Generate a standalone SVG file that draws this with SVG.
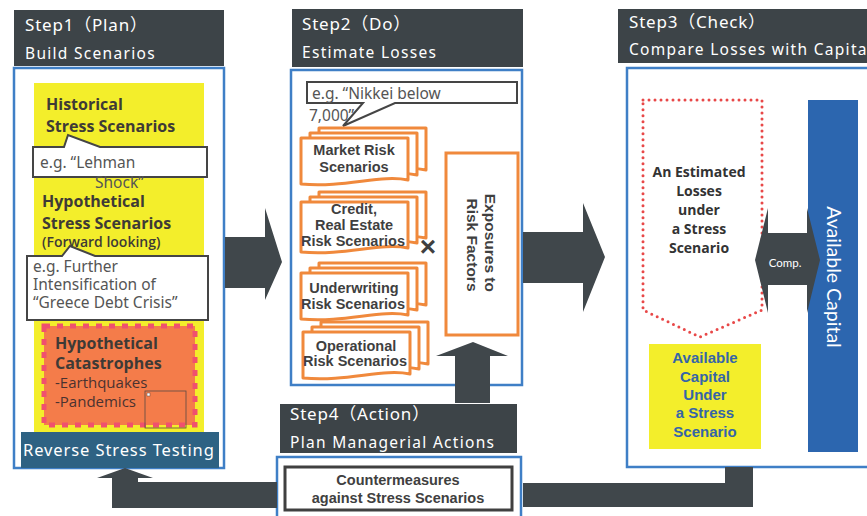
<svg xmlns="http://www.w3.org/2000/svg" width="867" height="516" viewBox="0 0 867 516">
  <style>
    .hdr { fill: #3d4448; }
    .hdr-t1 { font-family: "Noto Sans", "Noto Sans CJK JP", sans-serif; font-size: 17px; fill: #ffffff; letter-spacing: 0.8px; }
    .hdr-t2 { font-family: "Noto Sans", "Noto Sans CJK JP", sans-serif; font-size: 15.5px; fill: #ffffff; letter-spacing: 1.3px; }
    .panel { fill: #ffffff; stroke: #3f7fc6; stroke-width: 2.5; }
    .flow { fill: #40474b; }
    .callout { fill: #ffffff; stroke: #454545; stroke-width: 2; }
    .callout-t { font-family: "Noto Sans", "Noto Sans CJK JP", sans-serif; font-size: 15.5px; fill: #555555; }
    .scen { font-family: "Open Sans", Lato, sans-serif; font-weight: bold; font-size: 16px; fill: #3e3a36; }
    .card { fill: #ffffff; stroke: #f0893c; stroke-width: 3; stroke-linejoin: round; }
    .card-t { font-family: "Liberation Sans", Arial, sans-serif; font-weight: bold; font-size: 14.5px; fill: #3f3f3f; text-anchor: middle; }
    .bold-mid { font-family: "Liberation Sans", Arial, sans-serif; font-weight: bold; text-anchor: middle; }
  </style>
  <defs>
    <!-- document-style card with a wavy lower edge -->
    <path id="card" d="M0,0 H107 V42 C80,36 45,50 0,46 Z"/>
    <path id="cardTall" d="M0,0 H107 V46 C80,40 45,54 0,50 Z"/>
  </defs>

  <!-- ===== Step 1 : Plan ===== -->
  <g id="step1">
    <rect class="hdr" x="14" y="10" width="210" height="56"/>
    <text class="hdr-t1" x="25" y="31">Step1（Plan）</text>
    <text class="hdr-t2" x="25" y="59">Build Scenarios</text>
    <rect class="panel" x="14" y="68" width="210" height="400"/>
  </g>

  <g id="scenario-block">
    <rect x="34" y="83" width="170" height="350" fill="#f3ee2b"/>
    <text class="scen" x="46" y="110">Historical</text>
    <text class="scen" x="46" y="132">Stress Scenarios</text>
  </g>

  <g id="callout-lehman">
    <path class="callout" d="M33,147 H64 L68,135 L100,147 H207 V177 H33 Z"/>
    <text class="callout-t" x="40" y="168" font-size="16.5">e.g. “Lehman</text>
    <text class="callout-t" x="95" y="188" fill="#666666">Shock”</text>
  </g>

  <g id="hypothetical">
    <text class="scen" x="42" y="207">Hypothetical</text>
    <text class="scen" x="42" y="229">Stress Scenarios</text>
    <text x="42" y="247" font-family="'Open Sans', Lato, sans-serif" font-weight="600" font-size="14" fill="#3e3a36">(Forward looking)</text>
  </g>

  <g id="callout-greece">
    <path class="callout" d="M27,256 H62 L70,246 L95,256 H208 V320 H27 Z"/>
    <text class="callout-t" x="33" y="272">e.g. Further</text>
    <text class="callout-t" x="33" y="290">Intensification of</text>
    <text class="callout-t" x="33" y="308">“Greece Debt Crisis”</text>
  </g>

  <g id="catastrophes">
    <rect x="44" y="326" width="151" height="99" fill="#f47c4a" stroke="#f0506e" stroke-width="5" stroke-dasharray="6 7"/>
    <text class="scen" x="55" y="349" font-size="16.5" fill="#4a3230">Hypothetical</text>
    <text class="scen" x="55" y="369" font-size="16.5" fill="#4a3230">Catastrophes</text>
    <text x="55" y="388" font-family="'Open Sans', Lato, sans-serif" font-size="15" fill="#4a3230">-Earthquakes</text>
    <text x="55" y="407" font-family="'Open Sans', Lato, sans-serif" font-size="15" fill="#4a3230">-Pandemics</text>
    <rect x="145" y="391" width="41" height="37" fill="none" stroke="#5a4a44" stroke-width="0.8"/>
    <rect x="147" y="393" width="3" height="3" fill="#ffffff" stroke="#5a4a44" stroke-width="0.5"/>
  </g>

  <g id="reverse-stress">
    <rect x="21" y="432" width="198" height="36" fill="#2e6283"/>
    <text x="23" y="456" font-family="'Noto Sans', 'Noto Sans CJK JP', sans-serif" font-size="16.5" fill="#ffffff" letter-spacing="0.9">Reverse Stress Testing</text>
  </g>

  <!-- ===== Step 2 : Do ===== -->
  <g id="step2">
    <rect class="hdr" x="292" y="9" width="231" height="58"/>
    <text class="hdr-t1" x="302" y="30">Step2（Do）</text>
    <text class="hdr-t2" x="302" y="58">Estimate Losses</text>
    <rect class="panel" x="291" y="70" width="231" height="315"/>
  </g>

  <g id="callout-nikkei">
    <path class="callout" d="M307,82 H517 V103 H395 L343,126 L363,103 H307 Z"/>
    <text class="callout-t" x="312" y="99" font-size="16">e.g. “Nikkei below</text>
    <text class="callout-t" x="309" y="121" font-size="16">7,000”</text>
  </g>

  <g id="market-risk">
    <use href="#card" class="card" x="319" y="128"/>
    <use href="#card" class="card" x="310" y="133"/>
    <use href="#card" class="card" x="301" y="138"/>
    <text class="card-t" x="354" y="155">Market Risk</text>
    <text class="card-t" x="354" y="172">Scenarios</text>
  </g>

  <g id="credit-risk">
    <use href="#cardTall" class="card" x="319" y="192"/>
    <use href="#cardTall" class="card" x="310" y="197"/>
    <use href="#cardTall" class="card" x="301" y="202"/>
    <text class="card-t" x="354" y="214">Credit,</text>
    <text class="card-t" x="354" y="230">Real Estate</text>
    <text class="card-t" x="353" y="246">Risk Scenarios</text>
  </g>

  <g id="underwriting-risk">
    <use href="#card" class="card" x="319" y="263"/>
    <use href="#card" class="card" x="310" y="268"/>
    <use href="#card" class="card" x="301" y="273"/>
    <text class="card-t" x="354" y="293">Underwriting</text>
    <text class="card-t" x="353" y="309">Risk Scenarios</text>
  </g>

  <g id="operational-risk">
    <use href="#card" class="card" x="321" y="322"/>
    <use href="#card" class="card" x="312" y="327"/>
    <use href="#card" class="card" x="303" y="332"/>
    <text class="card-t" x="356" y="351">Operational</text>
    <text class="card-t" x="355" y="366">Risk Scenarios</text>
  </g>

  <g id="times">
    <text class="bold-mid" x="428" y="256" font-size="28" fill="#3f3f3f">×</text>
  </g>

  <g id="exposures">
    <rect x="446" y="153" width="72" height="182" fill="#ffffff" stroke="#f0893c" stroke-width="3"/>
    <text class="bold-mid" font-size="15.5" fill="#3f3f3f" transform="translate(481,245) rotate(90)">
      <tspan x="0" y="-4">Exposures to</tspan>
      <tspan x="0" y="14">Risk Factors</tspan>
    </text>
  </g>

  <!-- ===== Step 3 : Check ===== -->
  <g id="step3">
    <rect class="hdr" x="618" y="9" width="260" height="54"/>
    <text class="hdr-t1" x="629" y="28">Step3（Check）</text>
    <text class="hdr-t2" x="629" y="55">Compare Losses with Capital</text>
    <rect class="panel" x="627" y="68" width="260" height="399"/>
  </g>

  <g id="estimated-losses">
    <path d="M643,100 H762 V310 L700,337 L643,310 Z" fill="none" stroke="#e84848" stroke-width="3" stroke-linecap="round" stroke-dasharray="0 6"/>
    <g font-family="'Open Sans', Lato, sans-serif" font-weight="bold" font-size="14" fill="#333333" text-anchor="middle">
      <text x="699" y="177">An Estimated</text>
      <text x="699" y="196">Losses</text>
      <text x="699" y="215">under</text>
      <text x="699" y="234">a Stress</text>
      <text x="699" y="253">Scenario</text>
    </g>
  </g>

  <g id="available-capital">
    <rect x="808" y="100" width="50" height="352" fill="#2c66af"/>
    <text x="0" y="0" font-family="Lato, 'Open Sans', sans-serif" font-size="19.5" fill="#ffffff" text-anchor="middle" transform="translate(833,277) rotate(90) translate(0,6)">Available Capital</text>
  </g>

  <g id="stressed-capital">
    <rect x="649" y="344" width="112" height="105" fill="#f3ee2b"/>
    <g class="bold-mid" font-size="15" fill="#3565a8">
      <text x="705" y="363">Available</text>
      <text x="705" y="382">Capital</text>
      <text x="705" y="400">Under</text>
      <text x="705" y="418">a Stress</text>
      <text x="705" y="437">Scenario</text>
    </g>
  </g>

  <!-- ===== Step 4 : Action ===== -->
  <g id="step4">
    <rect class="hdr" x="280" y="404" width="237" height="49"/>
    <text class="hdr-t1" x="290" y="420">Step4（Action）</text>
    <text class="hdr-t2" x="290" y="448">Plan Managerial Actions</text>
    <rect class="panel" x="277" y="457" width="244" height="70"/>
    <rect x="285" y="467" width="227" height="43" fill="#ffffff" stroke="#404040" stroke-width="3"/>
    <text class="bold-mid" x="398" y="485" font-size="14.5" fill="#404040">Countermeasures</text>
    <text class="bold-mid" x="398" y="503" font-size="14.5" fill="#404040">against Stress Scenarios</text>
  </g>

  <!-- ===== connectors ===== -->
  <g id="connectors" class="flow">
    <!-- Step1 to Step2 -->
    <polygon points="225,237 265,237 265,208 282,262 265,300 265,288 225,288"/>
    <!-- Step2 to Step3 -->
    <polygon points="523,232 583,232 583,203 605,257 583,312 583,283 523,283"/>
    <!-- Step4 up into Step2 -->
    <polygon points="455,403 455,356 436,356 473,342 508,356 490,356 490,403"/>
    <!-- Step3 down to Step4 -->
    <polygon points="725,467 753,467 753,507 523,507 523,483 725,483"/>
    <!-- Step4 back to Step1 -->
    <polygon points="277,482 138,482 138,478 153,478 125,468 97,478 112,478 112,508 277,508"/>
    <!-- comparison double arrow -->
    <polygon points="755,260 768,208 768,233 807,233 807,208 820,260 807,313 807,285 768,285 768,313"/>
    <text x="785" y="267" font-family="Lato, 'Open Sans', sans-serif" font-size="11.5" fill="#ffffff" text-anchor="middle">Comp.</text>
  </g>
</svg>
